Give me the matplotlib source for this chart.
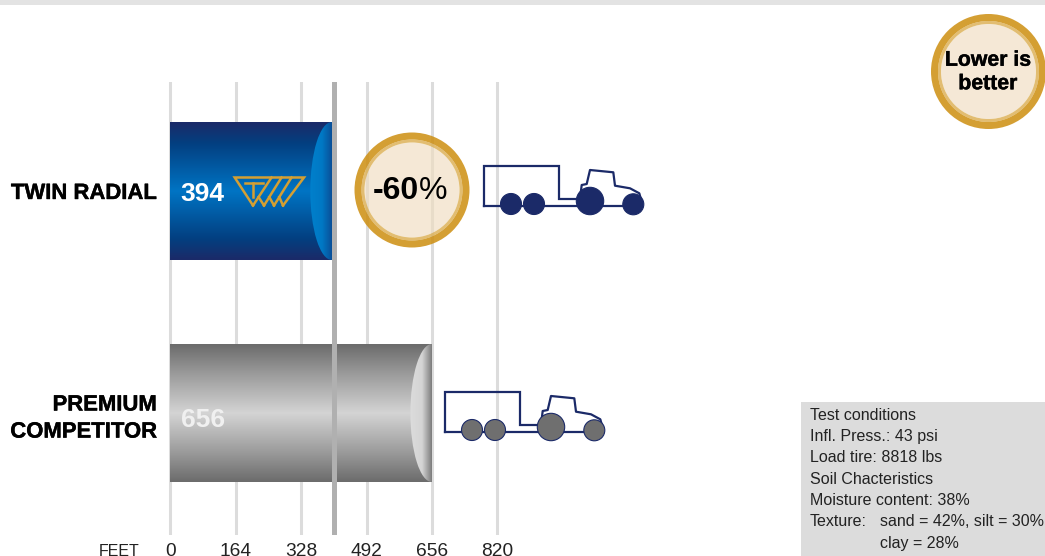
import matplotlib.pyplot as plt
import matplotlib.patheffects as pe
import numpy as np
from matplotlib.colors import LinearSegmentedColormap
from matplotlib.patches import Annulus, Circle, Ellipse, Rectangle

plt.rcParams["font.family"] = ["Liberation Sans", "DejaVu Sans"]

W, H = 1045, 556

categories = ["TWIN RADIAL", "PREMIUM\nCOMPETITOR"]
values = [394, 656]
# drawn length differs a bit from the printed 394
bar_lengths = [405, 656]
reference_line = 411
feet_ticks = [0, 164, 328, 492, 656, 820]
conditions = [
    "Test conditions",
    "Infl. Press.: 43 psi",
    "Load tire: 8818 lbs",
    "Soil Chacteristics",
    "Moisture content: 38%",
    "Texture:",
    "",
]
texture = ["sand = 42%, silt = 30%", "clay = 28%"]

navy = "#1b2a68"
gold = "#d49f33"
blue_cmap = LinearSegmentedColormap.from_list(
    "blue", [(0, "#1b2a68"), (0.15, "#033f80"), (0.5, "#0074c4"), (0.85, "#033f80"), (1, "#1b2a68")]
)
grey_cmap = LinearSegmentedColormap.from_list(
    "grey", [(0, "#6c6c6c"), (0.22, "#9c9c9c"), (0.5, "#d4d4d4"), (0.78, "#9c9c9c"), (1, "#6c6c6c")]
)
blue_cap = LinearSegmentedColormap.from_list(
    "bluecap", [(0, "#0080cc"), (0.55, "#0078c4"), (1, "#0a4f98")]
)
grey_cap = LinearSegmentedColormap.from_list(
    "greycap", [(0, "#dcdcdc"), (0.55, "#d4d4d4"), (1, "#7c7c7c")]
)

fig = plt.figure(figsize=(W / 100, H / 100), dpi=100)

# chart axes: feet on x, pixels mapped so the grid sits where it does in the original
px_per_ft = 327 / 820
x0_px = 170.3
left, right = -10, 830
ax_l = x0_px + left * px_per_ft
ax_r = x0_px + right * px_per_ft
top_px, bot_px = 82, 535
ax = fig.add_axes([ax_l / W, 1 - bot_px / H, (ax_r - ax_l) / W, (bot_px - top_px) / H])

row_px = 222
bar_h = 138 / row_px
y = np.arange(len(categories))

bars = ax.barh(y, bar_lengths, height=bar_h, color="none", zorder=2)
for bar, cmap, cap_cmap, length, yi in zip(bars, [blue_cmap, grey_cmap], [blue_cap, grey_cap], bar_lengths, y):
    ext = (0, length, yi + bar_h / 2, yi - bar_h / 2)
    im = ax.imshow(np.linspace(0, 1, 200)[:, None], extent=ext, cmap=cmap, aspect="auto", zorder=2)
    im.set_clip_path(bar)
    cap_w = 21.5 / px_per_ft
    cap = Ellipse((length, yi), 2 * cap_w, bar_h, transform=ax.transData, fc="none", ec="none")
    ax.add_patch(cap)
    im2 = ax.imshow(
        np.linspace(0, 1, 100)[None, :],
        extent=(length - cap_w, length, yi + bar_h / 2, yi - bar_h / 2),
        cmap=cap_cmap, aspect="auto", zorder=3,
    )
    im2.set_clip_path(cap)

ax.axvline(reference_line, color="#b0b0b0", lw=3.6, zorder=4)

for yi, v, dy, col in zip(y, values, [-3, -7], ["white", "#f0f0f0"]):
    ax.annotate(str(v), (26, yi), xytext=(0, dy), textcoords="offset pixels", color=col,
                fontsize=19, fontweight="bold", va="center", ha="left", zorder=5)

ax.set_xlim(left, right)
ax.set_ylim(1 + (bot_px - 413) / row_px, -(191 - top_px) / row_px)
ax.set_xticks(feet_ticks)
ax.set_xticklabels([str(t) for t in feet_ticks], fontsize=13.8, color="#222222")
ax.set_yticks(y)
ax.set_yticklabels(categories, fontsize=15.9, fontweight="bold", color="black", linespacing=1.38)
for lab in ax.get_yticklabels():
    lab.set_path_effects([pe.withStroke(linewidth=0.3, foreground="black")])
ax.tick_params(axis="both", length=0)
ax.tick_params(axis="x", pad=6)
ax.tick_params(axis="y", pad=6.6)
ax.grid(axis="x", color="#dcdcdc", lw=2.2)
ax.set_axisbelow(True)
for s in ax.spines.values():
    s.set_visible(False)
ax.patch.set_alpha(0)

# overlay in pixel coordinates for the badges, icons and notes
deco = fig.add_axes([0, 0, 1, 1])
deco.set_xlim(0, W)
deco.set_ylim(H, 0)
deco.axis("off")
deco.patch.set_alpha(0)

deco.add_patch(Rectangle((0, 0), W, 5, fc="#e3e3e3", ec="none"))
deco.text(139, 551, "FEET", fontsize=11.5, color="#222222", ha="right", va="center")


def badge(cx, cy):
    # slightly see-through so the grid shows faintly, colours compensated for that
    deco.add_patch(Circle((cx, cy), 47.5, fc="#f0ddc0", ec="none", alpha=0.65))
    deco.add_patch(Annulus((cx, cy), 50.5, 3, fc="#ddb259", ec="none", alpha=0.85))
    deco.add_patch(Annulus((cx, cy), 57.5, 7, fc="#cd8e0f", ec="none", alpha=0.85))


badge(412, 190)
deco.text(419, 191, "-60", fontsize=23, fontweight="bold", ha="right", va="center")
deco.text(419, 191, "%", fontsize=23, ha="left", va="center")

badge(988.5, 71.5)
t = deco.text(988, 72, "Lower is\nbetter", fontsize=15.3, fontweight="bold", ha="center", va="center", linespacing=1.3)
t.set_path_effects([pe.withStroke(linewidth=0.3, foreground="black")])

# tire logo
logo_x = [253, 234.7, 304, 283]
logo_y = [205.5, 177.5, 177.5, 205.5]
deco.plot(logo_x, logo_y, color=gold, lw=1.8, solid_joinstyle="miter")
for xa, xb in [(253, 271.5), (264, 281.5), (274, 291.5)]:
    deco.plot([xa, xb], [205.5, 177.5], color=gold, lw=1.8)
for xa, xb in [(258.6, 264), (269.3, 274), (279.3, 283)]:
    deco.plot([xa, xb], [197, 205.5], color=gold, lw=1.8)
deco.plot([244.7, 263], [182.7, 182.7], color=gold, lw=1.8)
deco.plot([253, 253], [182.7, 196.7], color=gold, lw=1.8)


def tractor(ox, oy, wheel):
    line_x = [0, 0, 75.8, 75.8, 96.5]
    line_y = [52.7, 12.7, 12.7, 46.3, 46.3]
    deco.plot(np.array(line_x) + ox, np.array(line_y) + oy, color=navy, lw=1.6, solid_joinstyle="miter")
    deco.plot(np.array([0, 147]) + ox, np.array([52.7, 52.7]) + oy, color=navy, lw=1.6)
    cab_x = [97.5, 98.2, 103.2, 106.5, 129.8, 131.5, 146.5, 155.8, 157.2]
    cab_y = [37.7, 32, 31, 17, 19.3, 32.7, 35.3, 40.3, 45.3]
    deco.plot(np.array(cab_x) + ox, np.array(cab_y) + oy, color=navy, lw=1.6)
    for wx, wy, r in [(27.5, 51, 10.5), (50.5, 51, 10.5), (106.5, 48, 13.7), (149.8, 51.3, 10.5)]:
        deco.add_patch(Circle((wx + ox, wy + oy), r, fc=wheel, ec=navy, lw=0.8, zorder=3))


tractor(483.5, 153, navy)
tractor(444.5, 379, "#6f6f6f")

# test conditions box
deco.add_patch(Rectangle((801, 402), W - 801, H - 402, fc="#dcdcdc", ec="none"))
line_y = [420, 441, 462.5, 484, 505, 526.5, 548]
for yy, s in zip(line_y, conditions):
    if s:
        deco.text(810, yy, s, fontsize=11.5, color="#222222", va="baseline", ha="left")
for yy, s in zip(line_y[-2:], texture):
    deco.text(880, yy, s, fontsize=11.5, color="#222222", va="baseline", ha="left")

fig.savefig("out.png", dpi=100)
plt.close()
